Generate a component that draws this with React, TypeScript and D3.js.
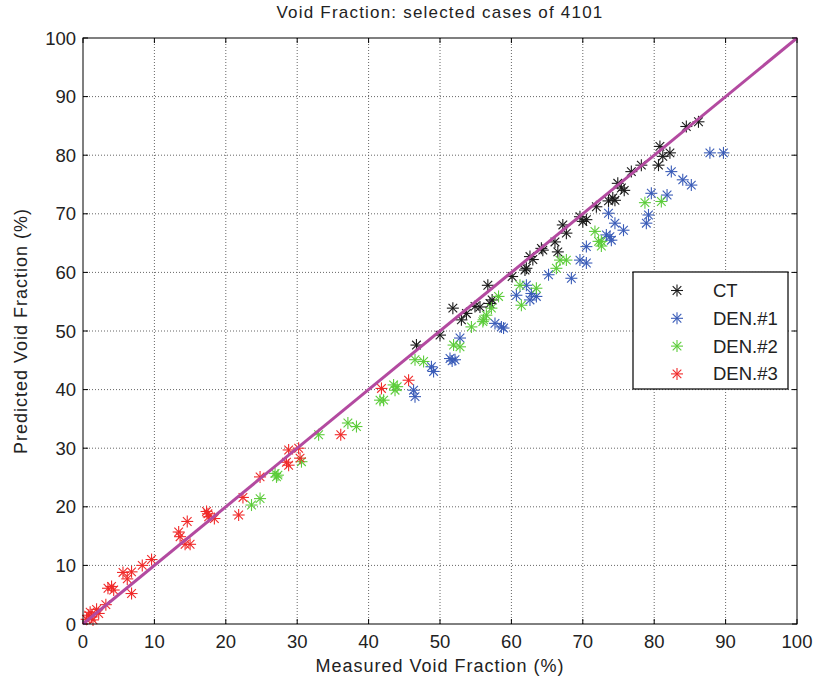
import React from "react";
import * as d3 from "d3";

const title = "Void Fraction: selected cases of 4101";
const xLabel = "Measured Void Fraction (%)";
const yLabel = "Predicted Void Fraction (%)";
const tickValues = [0, 10, 20, 30, 40, 50, 60, 70, 80, 90, 100];

const ctPoints: [number, number][] = [
  [46.7, 47.6], [50, 49.3], [51.8, 53.9], [53, 51.9], [53.7, 53], [54.9, 54.2], [55.6, 54.1],
  [56.7, 57.8], [57, 54.7], [57.3, 55.3], [60.1, 59.3], [61.9, 60.4], [62.1, 60.7], [62.6, 62.7],
  [63, 62.2], [64.2, 64.1], [64.4, 63.8], [66.1, 65.2], [66.5, 63.5], [67.2, 68.1], [67.7, 66.7],
  [69.6, 69.5], [70, 68.7], [70.5, 69], [71.9, 71.2], [73.6, 72.2], [74.2, 72.7], [74.5, 72.3],
  [74.9, 75.2], [75.4, 74.4], [75.8, 74], [76.8, 77.2], [78.2, 78.3], [80.6, 78.3], [80.8, 81.5],
  [81.2, 79.8], [82.2, 80.4], [84.5, 84.9], [86.2, 85.7],
];

const den1Points: [number, number][] = [
  [46.3, 39.9], [46.5, 38.8], [48.8, 43.9], [49.1, 43.1], [51.4, 45.3], [52.1, 45.1], [51.7, 44.9],
  [52.8, 48.8], [57.7, 51.3], [58.9, 50.5], [58.6, 50.7], [60.7, 56.1], [62.1, 57.8], [62.8, 56.4],
  [63.5, 55.9], [62.6, 55.3], [65.2, 59.6], [68.4, 59], [69.6, 62.1], [70.5, 61.6], [70.5, 64.4],
  [73.3, 66.4], [73.8, 66.1], [74, 65.5], [73.6, 70.1], [74.5, 68.4], [75.7, 67.2], [78.9, 68.4],
  [79.2, 69.8], [79.6, 73.5], [81.8, 73.2], [82.4, 77.2], [84, 75.8], [85.2, 74.9], [87.8, 80.4],
  [89.7, 80.4],
];

const den2Points: [number, number][] = [
  [23.6, 20.3], [24.8, 21.4], [26.9, 25.7], [27.1, 25.1], [27.3, 25.4], [30.6, 27.7], [33, 32.3],
  [37.1, 34.3], [38.3, 33.7], [41.6, 38.2], [42.1, 38.2], [43.5, 40.8], [43.7, 39.9], [44, 40.5],
  [46.5, 45.1], [47.7, 44.8], [51.9, 47.6], [52.8, 47.3], [54.4, 50.7], [56.1, 51.9], [56.5, 52.7],
  [57.2, 53.9], [58.2, 55.9], [56, 51.6], [61.4, 54.4], [61.2, 57.8], [63.5, 57.3], [66.3, 60.7],
  [66.8, 62.1], [67.7, 62.1], [71.7, 67], [72.2, 65.3], [72.6, 65.3], [72.6, 64.5], [78.7, 71.9],
  [81, 72.1],
];

const den3Points: [number, number][] = [
  [0.5, 0.8], [0.8, 1.5], [1.2, 1.2], [1.4, 0.7], [1.0, 2.0], [1.9, 2.5], [2.2, 1.8], [3.2, 3.3],
  [3.5, 6.1], [4.0, 6.4], [4.3, 5.8], [5.6, 8.8], [6.8, 8.9], [6.2, 7.7], [6.8, 5.2], [8.3, 10.0],
  [9.6, 11.0], [13.4, 15.7], [13.6, 14.9], [14.3, 13.6], [15.0, 13.6], [14.6, 17.5], [17.3, 19.2],
  [17.6, 18.3], [18.4, 18.0], [17.5, 18.8], [21.8, 18.6], [22.4, 21.6], [24.8, 25.1], [28.5, 27.6],
  [28.8, 27.1], [28.8, 29.7], [30.2, 30.0], [30.4, 28.3], [36.1, 32.3], [41.8, 40.2], [45.6, 41.6],
];

const refLineX = [0, 100];
const refLineY = [0, 100];

const seriesNames = ["CT", "DEN.#1", "DEN.#2", "DEN.#3"];
const seriesColors = ["#1a1a1a", "#3a5cb8", "#5ccc3a", "#f02a2a"];
const seriesData = [ctPoints, den1Points, den2Points, den3Points];

const W = 815;
const H = 679;
const M = { left: 83, right: 797, top: 38, bottom: 624 };
const FONT = "'Liberation Sans', Arial, sans-serif";

function Star({ x, y, color }: { x: number; y: number; color: string }) {
  const r = 6;
  const d = r * 0.72;
  return (
    <g stroke={color} strokeWidth={1.1} fill="none">
      <line x1={x - r} y1={y} x2={x + r} y2={y} />
      <line x1={x} y1={y - r} x2={x} y2={y + r} />
      <line x1={x - d} y1={y - d} x2={x + d} y2={y + d} />
      <line x1={x - d} y1={y + d} x2={x + d} y2={y - d} />
    </g>
  );
}

export default function App() {
  const xs = d3.scaleLinear().domain([0, 100]).range([M.left, M.right]);
  const ys = d3.scaleLinear().domain([0, 100]).range([M.bottom, M.top]);
  const line = d3
    .line<number>()
    .x((_, i) => xs(refLineX[i]))
    .y((_, i) => ys(refLineY[i]));

  const legX = 633, legY = 272, legW = 155, legH = 117;
  const rowY0 = 290.5, rowStep = 27.8;

  return (
    <svg width={W} height={H} style={{ position: "absolute", left: 0, top: 0, background: "#fff" }}>
      <rect x={0} y={0} width={W} height={H} fill="#fff" />
      {/* grid */}
      <g stroke="#666" strokeWidth={1} strokeDasharray="1,2">
        {tickValues.slice(1, -1).map((t) => (
          <line key={"gx" + t} x1={xs(t)} x2={xs(t)} y1={M.top} y2={M.bottom} />
        ))}
        {tickValues.slice(1, -1).map((t) => (
          <line key={"gy" + t} x1={M.left} x2={M.right} y1={ys(t)} y2={ys(t)} />
        ))}
      </g>
      {/* ticks */}
      <g stroke="#000" strokeWidth={1}>
        {tickValues.map((t) => (
          <g key={"t" + t}>
            <line x1={xs(t)} x2={xs(t)} y1={M.bottom} y2={M.bottom - 5} />
            <line x1={xs(t)} x2={xs(t)} y1={M.top} y2={M.top + 5} />
            <line x1={M.left} x2={M.left + 5} y1={ys(t)} y2={ys(t)} />
            <line x1={M.right} x2={M.right - 5} y1={ys(t)} y2={ys(t)} />
          </g>
        ))}
      </g>
      {/* points */}
      {seriesData.map((pts, si) => (
        <g key={"s" + si}>
          {pts.map((p, i) => (
            <Star key={i} x={xs(p[0])} y={ys(p[1])} color={seriesColors[si]} />
          ))}
        </g>
      ))}
      {/* reference line */}
      <path d={line(refLineX) || ""} stroke="#b34aa0" strokeWidth={3} fill="none" />
      {/* axes box */}
      <rect x={M.left} y={M.top} width={M.right - M.left} height={M.bottom - M.top} fill="none" stroke="#000" strokeWidth={1} />
      {/* tick labels */}
      <g fontFamily={FONT} fontSize={18.5} fill="#222">
        {tickValues.map((t) => (
          <text key={"xl" + t} x={xs(t)} y={648} textAnchor="middle">{t}</text>
        ))}
        {tickValues.map((t) => (
          <text key={"yl" + t} x={76} y={ys(t) + 6.5} textAnchor="end">{t}</text>
        ))}
      </g>
      <text x={440} y={672} fontFamily={FONT} fontSize={18} letterSpacing={1} textAnchor="middle" fill="#222">{xLabel}</text>
      <text transform={`translate(27,${331}) rotate(-90)`} fontFamily={FONT} fontSize={18} letterSpacing={1} textAnchor="middle" fill="#222">{yLabel}</text>
      <text x={440} y={18} fontFamily={FONT} fontSize={17} letterSpacing={1.2} textAnchor="middle" fill="#222">{title}</text>
      {/* legend */}
      <rect x={legX} y={legY} width={legW} height={legH} fill="#fff" stroke="#000" strokeWidth={1.2} />
      {seriesNames.map((n, i) => (
        <g key={"lg" + i}>
          <Star x={677} y={rowY0 + i * rowStep} color={seriesColors[i]} />
          <text x={713} y={rowY0 + i * rowStep + 6.5} fontFamily={FONT} fontSize={18.5} fill="#222">{n}</text>
        </g>
      ))}
    </svg>
  );
}
